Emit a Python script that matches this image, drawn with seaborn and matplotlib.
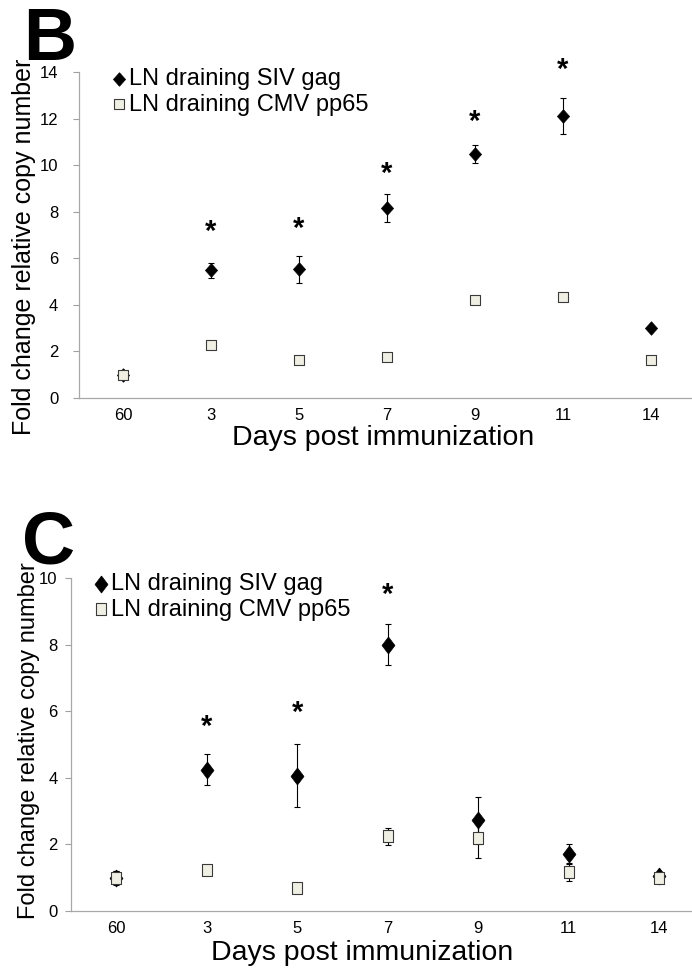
import numpy as np
import pandas as pd
import seaborn as sns
import matplotlib.pyplot as plt

days = ["60", "3", "5", "7", "9", "11", "14"]

# panel B
b_siv = [1.0, 5.48, 5.53, 8.15, 10.48, 12.1, 3.0]
b_siv_err = [0.15, 0.32, 0.57, 0.61, 0.4, 0.78, 0.1]
b_cmv = [1.0, 2.28, 1.65, 1.75, 4.22, 4.32, 1.62]
b_cmv_err = [0.12, 0.1, 0.1, 0.1, 0.1, 0.1, 0.1]
b_star_days = ["3", "5", "7", "9", "11"]
b_star_y = [7.2, 7.3, 9.7, 11.9, 14.15]

# panel C
c_siv = [1.0, 4.24, 4.06, 8.0, 2.72, 1.71, 1.05]
c_siv_err = [0.2, 0.47, 0.95, 0.61, 0.7, 0.3, 0.12]
c_cmv = [1.0, 1.23, 0.7, 2.24, 2.19, 1.16, 1.0]
c_cmv_err = [0.21, 0.15, 0.12, 0.25, 0.6, 0.27, 0.15]
c_star_days = ["3", "5", "7"]
c_star_y = [5.58, 6.0, 9.54]

legend_labels = ["LN draining SIV gag", "LN draining CMV pp65"]

sns.set_style("white")
plt.rcParams["font.family"] = ["Liberation Sans", "DejaVu Sans"]
plt.rcParams["text.color"] = "black"
plt.rcParams["axes.labelcolor"] = "black"
plt.rcParams["xtick.labelcolor"] = "black"
plt.rcParams["ytick.labelcolor"] = "black"

fig = plt.figure(figsize=(6.92, 9.68), dpi=100)
W, H = 692.0, 968.0


def px_axes(left, top_y0, right, y_zero):
    # box given in pixels of the picture
    return fig.add_axes([left / W, (H - y_zero) / H, (right - left) / W, (y_zero - top_y0) / H])


ax_b = px_axes(79, 72, 695, 398)
ax_c = px_axes(71, 578, 704.5, 911)

diamond_b = [(0, 1), (0.9, 0), (0, -1), (-0.9, 0), (0, 1)]
diamond_c = [(0, 1), (0.76, 0), (0, -1), (-0.76, 0), (0, 1)]
square_c = [(-0.82, -1), (0.82, -1), (0.82, 1), (-0.82, 1), (-0.82, -1)]


def panel(ax, siv, siv_err, cmv, cmv_err, ymax, dmark, ds, smark, ss, star_days, star_y, ypad):
    df = pd.DataFrame({"day": days, "siv": siv, "cmv": cmv})
    ax.errorbar(days, siv, yerr=siv_err, fmt="none", ecolor="black",
                elinewidth=0.8, capsize=2.2, capthick=0.8, zorder=2)
    sns.scatterplot(data=df, x="day", y="siv", marker=dmark, s=ds, color="black",
                    edgecolor="black", linewidth=0.5, ax=ax, zorder=3, label=legend_labels[0])
    ax.errorbar(days, cmv, yerr=cmv_err, fmt="none", ecolor="black",
                elinewidth=0.8, capsize=2.2, capthick=0.8, zorder=4)
    sns.scatterplot(data=df, x="day", y="cmv", marker=smark, s=ss, color="#efefe4",
                    edgecolor="#3a3a3a", linewidth=0.8, ax=ax, zorder=5, label=legend_labels[1])
    for d, y in zip(star_days, star_y):
        ax.annotate("*", (d, y), xytext=(0, -1), textcoords="offset points",
                    ha="center", va="center", fontsize=21, fontweight="bold", zorder=6,
                    annotation_clip=False, clip_on=False)
    ax.set_xlim(-0.5, len(days) - 0.5)
    ax.set_ylim(0, ymax)
    ax.set_yticks(np.arange(0, ymax + 1, 2))
    ax.set_xticks(np.arange(-0.5, len(days), 1), minor=True)
    ax.tick_params(axis="x", which="major", length=0, pad=7, labelsize=12)
    ax.tick_params(axis="x", which="minor", length=5, width=0.8, color="#a0a0a0", direction="out")
    ax.tick_params(axis="y", length=4, width=0.8, color="#a0a0a0", direction="out",
                   pad=ypad, labelsize=12, left=True)
    for s in ["top", "right"]:
        ax.spines[s].set_visible(False)
    for s in ["left", "bottom"]:
        ax.spines[s].set_color("#a8a8a8")
        ax.spines[s].set_linewidth(0.9)
    ax.set_xlabel("")
    ax.set_ylabel("")


panel(ax_b, b_siv, b_siv_err, b_cmv, b_cmv_err, 14, diamond_b, 95, "s", 44,
      b_star_days, b_star_y, 11)
panel(ax_c, c_siv, c_siv_err, c_cmv, c_cmv_err, 10, diamond_c, 150, square_c, 63,
      c_star_days, c_star_y, 5.8)

ax_b.legend(loc="upper left", bbox_to_anchor=(112 / W, (H - 68) / H), bbox_transform=fig.transFigure,
            frameon=False, fontsize=17, handlelength=0.6, handletextpad=0.1,
            borderpad=0, borderaxespad=0, labelspacing=0.15)
ax_c.legend(loc="upper left", bbox_to_anchor=(94 / W, (H - 573) / H), bbox_transform=fig.transFigure,
            frameon=False, fontsize=17, handlelength=0.6, handletextpad=0.1,
            borderpad=0, borderaxespad=0, labelspacing=0.15)

# axis titles and panel letters
fig.text(383 / W, (H - 445) / H, "Days post immunization", ha="center", va="baseline", fontsize=20.5)
fig.text(362 / W, (H - 960) / H, "Days post immunization", ha="center", va="baseline", fontsize=20.5)
fig.text(24 / W, (H - 247) / H, "Fold change relative copy number", rotation=90,
         ha="center", va="center", fontsize=18)
fig.text(29 / W, (H - 741) / H, "Fold change relative copy number", rotation=90,
         ha="center", va="center", fontsize=17)
fig.text(23 / W, (H - 60) / H, "B", ha="left", va="baseline", fontsize=53, fontweight="bold")
fig.text(22 / W, (H - 564) / H, "C", ha="left", va="baseline", fontsize=53, fontweight="bold")

fig.savefig("out.png", dpi=100)
